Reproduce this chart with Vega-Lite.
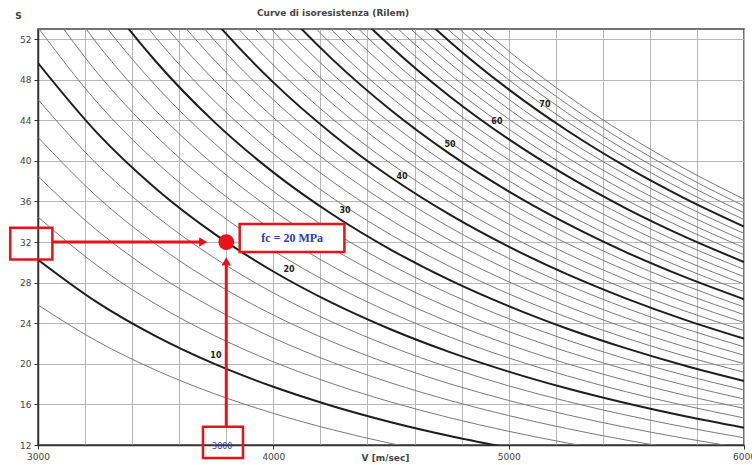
{
  "$schema": "https://vega.github.io/schema/vega-lite/v6.json",
  "width": 706,
  "height": 416,
  "autosize": {"type": "none"},
  "padding": {"left": 38, "top": 29, "right": 8, "bottom": 20},
  "background": "white",
  "config": {"view": {"stroke": "#444", "strokeWidth": 1.5}, "font": "DejaVu Sans"},
  "title": {"text": "Curve di isoresistenza (Rilem)", "fontSize": 9, "font": "DejaVu Sans", "fontWeight": "bold", "color": "#444", "anchor": "middle", "dx": -58, "dy": 15, "frame": "group", "offset": 8},
  "datasets": {
    "curves": [
      {"fc":8,"V":3000,"S":25.80},{"fc":8,"V":3250,"S":22.24},{"fc":8,"V":3500,"S":19.38},{"fc":8,"V":3750,"S":17.05},{"fc":8,"V":4000,"S":15.12},{"fc":8,"V":4250,"S":13.51},{"fc":8,"V":4500,"S":12.15},{"fc":8,"V":4750,"S":10.99},
      {"fc":10,"V":3000,"S":30.26},{"fc":10,"V":3250,"S":26.08},{"fc":10,"V":3500,"S":22.73},{"fc":10,"V":3750,"S":19.99},{"fc":10,"V":4000,"S":17.74},{"fc":10,"V":4250,"S":15.85},{"fc":10,"V":4500,"S":14.25},{"fc":10,"V":4750,"S":12.89},{"fc":10,"V":5000,"S":11.72},
      {"fc":12,"V":3000,"S":34.47},{"fc":12,"V":3250,"S":29.71},{"fc":12,"V":3500,"S":25.89},{"fc":12,"V":3750,"S":22.78},{"fc":12,"V":4000,"S":20.20},{"fc":12,"V":4250,"S":18.05},{"fc":12,"V":4500,"S":16.23},{"fc":12,"V":4750,"S":14.68},{"fc":12,"V":5000,"S":13.35},{"fc":12,"V":5250,"S":12.19},{"fc":12,"V":5500,"S":11.18},
      {"fc":14,"V":3000,"S":38.48},{"fc":14,"V":3250,"S":33.17},{"fc":14,"V":3500,"S":28.90},{"fc":14,"V":3750,"S":25.43},{"fc":14,"V":4000,"S":22.55},{"fc":14,"V":4250,"S":20.15},{"fc":14,"V":4500,"S":18.12},{"fc":14,"V":4750,"S":16.39},{"fc":14,"V":5000,"S":14.90},{"fc":14,"V":5250,"S":13.61},{"fc":14,"V":5500,"S":12.48},{"fc":14,"V":5750,"S":11.50},
      {"fc":16,"V":3000,"S":42.33},{"fc":16,"V":3250,"S":36.49},{"fc":16,"V":3500,"S":31.80},{"fc":16,"V":3750,"S":27.97},{"fc":16,"V":4000,"S":24.81},{"fc":16,"V":4250,"S":22.17},{"fc":16,"V":4500,"S":19.94},{"fc":16,"V":4750,"S":18.03},{"fc":16,"V":5000,"S":16.39},{"fc":16,"V":5250,"S":14.97},{"fc":16,"V":5500,"S":13.73},{"fc":16,"V":5750,"S":12.65},{"fc":16,"V":6000,"S":11.69},
      {"fc":18,"V":3000,"S":46.05},{"fc":18,"V":3250,"S":39.69},{"fc":18,"V":3500,"S":34.59},{"fc":18,"V":3750,"S":30.43},{"fc":18,"V":4000,"S":26.99},{"fc":18,"V":4250,"S":24.12},{"fc":18,"V":4500,"S":21.69},{"fc":18,"V":4750,"S":19.62},{"fc":18,"V":5000,"S":17.83},{"fc":18,"V":5250,"S":16.29},{"fc":18,"V":5500,"S":14.94},{"fc":18,"V":5750,"S":13.76},{"fc":18,"V":6000,"S":12.71},
      {"fc":20,"V":3000,"S":49.65},{"fc":20,"V":3250,"S":42.79},{"fc":20,"V":3500,"S":37.29},{"fc":20,"V":3750,"S":32.81},{"fc":20,"V":4000,"S":29.10},{"fc":20,"V":4250,"S":26.00},{"fc":20,"V":4500,"S":23.38},{"fc":20,"V":4750,"S":21.15},{"fc":20,"V":5000,"S":19.23},{"fc":20,"V":5250,"S":17.56},{"fc":20,"V":5500,"S":16.11},{"fc":20,"V":5750,"S":14.83},{"fc":20,"V":6000,"S":13.71},
      {"fc":22,"V":3000,"S":53.15},{"fc":22,"V":3250,"S":45.81},{"fc":22,"V":3500,"S":39.92},{"fc":22,"V":3750,"S":35.12},{"fc":22,"V":4000,"S":31.15},{"fc":22,"V":4250,"S":27.83},{"fc":22,"V":4500,"S":25.03},{"fc":22,"V":4750,"S":22.64},{"fc":22,"V":5000,"S":20.58},{"fc":22,"V":5250,"S":18.80},{"fc":22,"V":5500,"S":17.24},{"fc":22,"V":5750,"S":15.88},{"fc":22,"V":6000,"S":14.67},
      {"fc":24,"V":3000,"S":56.56},{"fc":24,"V":3250,"S":48.74},{"fc":24,"V":3500,"S":42.48},{"fc":24,"V":3750,"S":37.37},{"fc":24,"V":4000,"S":33.15},{"fc":24,"V":4250,"S":29.62},{"fc":24,"V":4500,"S":26.64},{"fc":24,"V":4750,"S":24.09},{"fc":24,"V":5000,"S":21.90},{"fc":24,"V":5250,"S":20.00},{"fc":24,"V":5500,"S":18.35},{"fc":24,"V":5750,"S":16.89},{"fc":24,"V":6000,"S":15.61},
      {"fc":26,"V":3000,"S":59.88},{"fc":26,"V":3250,"S":51.61},{"fc":26,"V":3500,"S":44.97},{"fc":26,"V":3750,"S":39.57},{"fc":26,"V":4000,"S":35.10},{"fc":26,"V":4250,"S":31.36},{"fc":26,"V":4500,"S":28.20},{"fc":26,"V":4750,"S":25.51},{"fc":26,"V":5000,"S":23.19},{"fc":26,"V":5250,"S":21.18},{"fc":26,"V":5500,"S":19.43},{"fc":26,"V":5750,"S":17.89},{"fc":26,"V":6000,"S":16.53},
      {"fc":28,"V":3000,"S":63.14},{"fc":28,"V":3250,"S":54.42},{"fc":28,"V":3500,"S":47.42},{"fc":28,"V":3750,"S":41.72},{"fc":28,"V":4000,"S":37.00},{"fc":28,"V":4250,"S":33.06},{"fc":28,"V":4500,"S":29.74},{"fc":28,"V":4750,"S":26.89},{"fc":28,"V":5000,"S":24.45},{"fc":28,"V":5250,"S":22.33},{"fc":28,"V":5500,"S":20.48},{"fc":28,"V":5750,"S":18.86},{"fc":28,"V":6000,"S":17.43},
      {"fc":30,"V":3000,"S":66.33},{"fc":30,"V":3250,"S":57.17},{"fc":30,"V":3500,"S":49.82},{"fc":30,"V":3750,"S":43.82},{"fc":30,"V":4000,"S":38.87},{"fc":30,"V":4250,"S":34.74},{"fc":30,"V":4500,"S":31.24},{"fc":30,"V":4750,"S":28.25},{"fc":30,"V":5000,"S":25.69},{"fc":30,"V":5250,"S":23.46},{"fc":30,"V":5500,"S":21.52},{"fc":30,"V":5750,"S":19.81},{"fc":30,"V":6000,"S":18.31},
      {"fc":32,"V":3250,"S":59.86},{"fc":32,"V":3500,"S":52.17},{"fc":32,"V":3750,"S":45.89},{"fc":32,"V":4000,"S":40.71},{"fc":32,"V":4250,"S":36.37},{"fc":32,"V":4500,"S":32.71},{"fc":32,"V":4750,"S":29.59},{"fc":32,"V":5000,"S":26.90},{"fc":32,"V":5250,"S":24.57},{"fc":32,"V":5500,"S":22.53},{"fc":32,"V":5750,"S":20.75},{"fc":32,"V":6000,"S":19.17},
      {"fc":34,"V":3250,"S":62.51},{"fc":34,"V":3500,"S":54.47},{"fc":34,"V":3750,"S":47.92},{"fc":34,"V":4000,"S":42.51},{"fc":34,"V":4250,"S":37.98},{"fc":34,"V":4500,"S":34.16},{"fc":34,"V":4750,"S":30.89},{"fc":34,"V":5000,"S":28.09},{"fc":34,"V":5250,"S":25.65},{"fc":34,"V":5500,"S":23.53},{"fc":34,"V":5750,"S":21.67},{"fc":34,"V":6000,"S":20.02},
      {"fc":36,"V":3250,"S":65.12},{"fc":36,"V":3500,"S":56.74},{"fc":36,"V":3750,"S":49.92},{"fc":36,"V":4000,"S":44.28},{"fc":36,"V":4250,"S":39.57},{"fc":36,"V":4500,"S":35.58},{"fc":36,"V":4750,"S":32.18},{"fc":36,"V":5000,"S":29.26},{"fc":36,"V":5250,"S":26.72},{"fc":36,"V":5500,"S":24.51},{"fc":36,"V":5750,"S":22.57},{"fc":36,"V":6000,"S":20.85},
      {"fc":38,"V":3500,"S":58.98},{"fc":38,"V":3750,"S":51.88},{"fc":38,"V":4000,"S":46.02},{"fc":38,"V":4250,"S":41.12},{"fc":38,"V":4500,"S":36.98},{"fc":38,"V":4750,"S":33.45},{"fc":38,"V":5000,"S":30.41},{"fc":38,"V":5250,"S":27.78},{"fc":38,"V":5500,"S":25.48},{"fc":38,"V":5750,"S":23.46},{"fc":38,"V":6000,"S":21.68},
      {"fc":40,"V":3500,"S":61.18},{"fc":40,"V":3750,"S":53.82},{"fc":40,"V":4000,"S":47.74},{"fc":40,"V":4250,"S":42.66},{"fc":40,"V":4500,"S":38.36},{"fc":40,"V":4750,"S":34.70},{"fc":40,"V":5000,"S":31.55},{"fc":40,"V":5250,"S":28.81},{"fc":40,"V":5500,"S":26.43},{"fc":40,"V":5750,"S":24.33},{"fc":40,"V":6000,"S":22.48},
      {"fc":42,"V":3500,"S":63.35},{"fc":42,"V":3750,"S":55.73},{"fc":42,"V":4000,"S":49.44},{"fc":42,"V":4250,"S":44.17},{"fc":42,"V":4500,"S":39.72},{"fc":42,"V":4750,"S":35.93},{"fc":42,"V":5000,"S":32.66},{"fc":42,"V":5250,"S":29.83},{"fc":42,"V":5500,"S":27.36},{"fc":42,"V":5750,"S":25.20},{"fc":42,"V":6000,"S":23.28},
      {"fc":44,"V":3500,"S":65.49},{"fc":44,"V":3750,"S":57.61},{"fc":44,"V":4000,"S":51.11},{"fc":44,"V":4250,"S":45.66},{"fc":44,"V":4500,"S":41.07},{"fc":44,"V":4750,"S":37.14},{"fc":44,"V":5000,"S":33.77},{"fc":44,"V":5250,"S":30.84},{"fc":44,"V":5500,"S":28.29},{"fc":44,"V":5750,"S":26.05},{"fc":44,"V":6000,"S":24.07},
      {"fc":46,"V":3750,"S":59.47},{"fc":46,"V":4000,"S":52.75},{"fc":46,"V":4250,"S":47.14},{"fc":46,"V":4500,"S":42.39},{"fc":46,"V":4750,"S":38.34},{"fc":46,"V":5000,"S":34.86},{"fc":46,"V":5250,"S":31.84},{"fc":46,"V":5500,"S":29.20},{"fc":46,"V":5750,"S":26.89},{"fc":46,"V":6000,"S":24.85},
      {"fc":48,"V":3750,"S":61.31},{"fc":48,"V":4000,"S":54.38},{"fc":48,"V":4250,"S":48.59},{"fc":48,"V":4500,"S":43.70},{"fc":48,"V":4750,"S":39.52},{"fc":48,"V":5000,"S":35.93},{"fc":48,"V":5250,"S":32.82},{"fc":48,"V":5500,"S":30.10},{"fc":48,"V":5750,"S":27.72},{"fc":48,"V":6000,"S":25.61},
      {"fc":50,"V":3750,"S":63.12},{"fc":50,"V":4000,"S":55.99},{"fc":50,"V":4250,"S":50.03},{"fc":50,"V":4500,"S":44.99},{"fc":50,"V":4750,"S":40.69},{"fc":50,"V":5000,"S":37.00},{"fc":50,"V":5250,"S":33.79},{"fc":50,"V":5500,"S":30.99},{"fc":50,"V":5750,"S":28.54},{"fc":50,"V":6000,"S":26.37},
      {"fc":52,"V":3750,"S":64.91},{"fc":52,"V":4000,"S":57.58},{"fc":52,"V":4250,"S":51.45},{"fc":52,"V":4500,"S":46.27},{"fc":52,"V":4750,"S":41.85},{"fc":52,"V":5000,"S":38.05},{"fc":52,"V":5250,"S":34.75},{"fc":52,"V":5500,"S":31.87},{"fc":52,"V":5750,"S":29.35},{"fc":52,"V":6000,"S":27.12},
      {"fc":54,"V":4000,"S":59.16},{"fc":54,"V":4250,"S":52.86},{"fc":54,"V":4500,"S":47.53},{"fc":54,"V":4750,"S":42.99},{"fc":54,"V":5000,"S":39.09},{"fc":54,"V":5250,"S":35.70},{"fc":54,"V":5500,"S":32.75},{"fc":54,"V":5750,"S":30.15},{"fc":54,"V":6000,"S":27.86},
      {"fc":56,"V":4000,"S":60.71},{"fc":56,"V":4250,"S":54.25},{"fc":56,"V":4500,"S":48.79},{"fc":56,"V":4750,"S":44.12},{"fc":56,"V":5000,"S":40.12},{"fc":56,"V":5250,"S":36.64},{"fc":56,"V":5500,"S":33.61},{"fc":56,"V":5750,"S":30.94},{"fc":56,"V":6000,"S":28.59},
      {"fc":58,"V":4000,"S":62.25},{"fc":58,"V":4250,"S":55.62},{"fc":58,"V":4500,"S":50.02},{"fc":58,"V":4750,"S":45.24},{"fc":58,"V":5000,"S":41.13},{"fc":58,"V":5250,"S":37.57},{"fc":58,"V":5500,"S":34.46},{"fc":58,"V":5750,"S":31.73},{"fc":58,"V":6000,"S":29.32},
      {"fc":60,"V":4000,"S":63.78},{"fc":60,"V":4250,"S":56.99},{"fc":60,"V":4500,"S":51.25},{"fc":60,"V":4750,"S":46.35},{"fc":60,"V":5000,"S":42.14},{"fc":60,"V":5250,"S":38.49},{"fc":60,"V":5500,"S":35.30},{"fc":60,"V":5750,"S":32.51},{"fc":60,"V":6000,"S":30.04},
      {"fc":62,"V":4000,"S":65.29},{"fc":62,"V":4250,"S":58.34},{"fc":62,"V":4500,"S":52.46},{"fc":62,"V":4750,"S":47.45},{"fc":62,"V":5000,"S":43.14},{"fc":62,"V":5250,"S":39.40},{"fc":62,"V":5500,"S":36.14},{"fc":62,"V":5750,"S":33.28},{"fc":62,"V":6000,"S":30.75},
      {"fc":64,"V":4250,"S":59.68},{"fc":64,"V":4500,"S":53.67},{"fc":64,"V":4750,"S":48.54},{"fc":64,"V":5000,"S":44.13},{"fc":64,"V":5250,"S":40.31},{"fc":64,"V":5500,"S":36.97},{"fc":64,"V":5750,"S":34.04},{"fc":64,"V":6000,"S":31.45},
      {"fc":66,"V":4250,"S":61.00},{"fc":66,"V":4500,"S":54.86},{"fc":66,"V":4750,"S":49.62},{"fc":66,"V":5000,"S":45.11},{"fc":66,"V":5250,"S":41.20},{"fc":66,"V":5500,"S":37.79},{"fc":66,"V":5750,"S":34.80},{"fc":66,"V":6000,"S":32.15},
      {"fc":68,"V":4250,"S":62.32},{"fc":68,"V":4500,"S":56.04},{"fc":68,"V":4750,"S":50.69},{"fc":68,"V":5000,"S":46.08},{"fc":68,"V":5250,"S":42.09},{"fc":68,"V":5500,"S":38.61},{"fc":68,"V":5750,"S":35.55},{"fc":68,"V":6000,"S":32.85},
      {"fc":70,"V":4250,"S":63.62},{"fc":70,"V":4500,"S":57.22},{"fc":70,"V":4750,"S":51.75},{"fc":70,"V":5000,"S":47.05},{"fc":70,"V":5250,"S":42.97},{"fc":70,"V":5500,"S":39.41},{"fc":70,"V":5750,"S":36.29},{"fc":70,"V":6000,"S":33.53},
      {"fc":72,"V":4250,"S":64.92},{"fc":72,"V":4500,"S":58.38},{"fc":72,"V":4750,"S":52.80},{"fc":72,"V":5000,"S":48.00},{"fc":72,"V":5250,"S":43.84},{"fc":72,"V":5500,"S":40.22},{"fc":72,"V":5750,"S":37.03},{"fc":72,"V":6000,"S":34.22},
      {"fc":74,"V":4500,"S":59.53},{"fc":74,"V":4750,"S":53.84},{"fc":74,"V":5000,"S":48.95},{"fc":74,"V":5250,"S":44.71},{"fc":74,"V":5500,"S":41.01},{"fc":74,"V":5750,"S":37.76},{"fc":74,"V":6000,"S":34.89},
      {"fc":76,"V":4500,"S":60.68},{"fc":76,"V":4750,"S":54.88},{"fc":76,"V":5000,"S":49.89},{"fc":76,"V":5250,"S":45.57},{"fc":76,"V":5500,"S":41.80},{"fc":76,"V":5750,"S":38.49},{"fc":76,"V":6000,"S":35.56},
      {"fc":78,"V":4500,"S":61.81},{"fc":78,"V":4750,"S":55.91},{"fc":78,"V":5000,"S":50.83},{"fc":78,"V":5250,"S":46.42},{"fc":78,"V":5500,"S":42.58},{"fc":78,"V":5750,"S":39.21},{"fc":78,"V":6000,"S":36.23}
    ]
  },
  "encoding": {
    "x": {
      "field": "V", "type": "quantitative",
      "scale": {"domain": [3000, 6000], "nice": false, "zero": false},
      "axis": {
        "values": [3000,3200,3400,3600,3800,4000,4200,4400,4600,4800,5000,5200,5400,5600,5800,6000],
        "format": "d",
        "labelExpr": "datum.value % 1000 === 0 ? datum.label : ''",
        "labelFlush": false, "labelOverlap": false,
        "tickOpacity": {"condition": {"test": "datum.value % 1000 === 0", "value": 1}, "value": 0},
        "tickSize": 4, "tickColor": "#333", "domainColor": "#333", "domainWidth": 1.5,
        "gridColor": "#b8b8b8", "gridWidth": 1,
        "labelFontSize": 9, "labelColor": "#444", "labelFont": "DejaVu Sans", "labelPadding": 3,
        "title": "V [m/sec]", "titleFont": "DejaVu Sans", "titleFontSize": 9, "titleFontWeight": "bold", "titleColor": "#444",
        "titleX": 347, "titleY": 12, "titleAlign": "center", "titleBaseline": "middle"
      }
    },
    "y": {
      "field": "S", "type": "quantitative",
      "scale": {"domain": [12, 53], "nice": false, "zero": false},
      "axis": {
        "values": [12,16,20,24,28,32,36,40,44,48,52],
        "tickSize": 4, "tickColor": "#333", "domainColor": "#333", "domainWidth": 1.5,
        "gridColor": "#b8b8b8", "gridWidth": 1,
        "labelFontSize": 9, "labelColor": "#444", "labelFont": "DejaVu Sans", "labelPadding": 3,
        "title": "S", "titleAngle": 0, "titleFont": "DejaVu Sans", "titleFontSize": 9, "titleFontWeight": "bold", "titleColor": "#444",
        "titleX": -20, "titleY": -14, "titleAlign": "center", "titleBaseline": "middle"
      }
    }
  },
  "layer": [
    {
      "data": {"name": "curves"},
      "transform": [{"filter": "datum.fc % 10 != 0"}],
      "mark": {"type": "line", "clip": true, "interpolate": "monotone", "stroke": "#7a7a7a", "strokeWidth": 1},
      "encoding": {"detail": {"field": "fc", "type": "nominal"}}
    },
    {
      "data": {"name": "curves"},
      "transform": [{"filter": "datum.fc % 10 == 0"}],
      "mark": {"type": "line", "clip": true, "interpolate": "monotone", "stroke": "#1e1e1e", "strokeWidth": 2},
      "encoding": {"detail": {"field": "fc", "type": "nominal"}}
    },
    {
      "data": {"values": [
        {"V": 3756, "S": 20.77, "t": "10"},
        {"V": 4067, "S": 29.25, "t": "20"},
        {"V": 4305, "S": 35.06, "t": "30"},
        {"V": 4547, "S": 38.41, "t": "40"},
        {"V": 4751, "S": 41.56, "t": "50"},
        {"V": 4950, "S": 43.83, "t": "60"},
        {"V": 5154, "S": 45.51, "t": "70"}
      ]},
      "mark": {"type": "text", "fontSize": 8, "fontWeight": "bold", "color": "#222", "font": "DejaVu Sans"},
      "encoding": {"text": {"field": "t"}}
    },
    {
      "data": {"values": [{"V": 3857, "V2": 4302, "S": 33.78, "S2": 31.02}]},
      "mark": {"type": "rect", "fill": "white", "stroke": "#e8121a", "strokeWidth": 2.5},
      "encoding": {"x2": {"field": "V2"}, "y2": {"field": "S2"}}
    },
    {
      "data": {"values": [
        {"V": 2882, "V2": 3061, "S": 33.42, "S2": 30.28},
        {"V": 3701, "V2": 3871, "S": 13.8, "S2": 10.72}
      ]},
      "mark": {"type": "rect", "filled": false, "stroke": "#e8121a", "strokeWidth": 2.5},
      "encoding": {"x2": {"field": "V2"}, "y2": {"field": "S2"}}
    },
    {
      "data": {"values": [{"V": 3061, "V2": 3700, "S": 32}]},
      "mark": {"type": "rule", "stroke": "#e8121a", "strokeWidth": 3},
      "encoding": {"x2": {"field": "V2"}}
    },
    {
      "data": {"values": [{"V": 3800, "S": 13.8, "S2": 30.1}]},
      "mark": {"type": "rule", "stroke": "#e8121a", "strokeWidth": 3},
      "encoding": {"y2": {"field": "S2"}}
    },
    {
      "data": {"values": [{"V": 3702, "S": 32}]},
      "mark": {"type": "point", "shape": "triangle-right", "filled": true, "color": "#e8121a", "size": 90, "opacity": 1},
      "encoding": {}
    },
    {
      "data": {"values": [{"V": 3800, "S": 30.1}]},
      "mark": {"type": "point", "shape": "triangle-up", "filled": true, "color": "#e8121a", "size": 90, "opacity": 1},
      "encoding": {}
    },
    {
      "data": {"values": [{"V": 3800, "S": 32}]},
      "mark": {"type": "point", "shape": "circle", "filled": true, "color": "#e8121a", "size": 250, "opacity": 1},
      "encoding": {}
    },
    {
      "data": {"values": [{"V": 4080, "S": 32.4, "t": "fc = 20 MPa"}]},
      "mark": {"type": "text", "font": "Liberation Serif", "fontSize": 12, "fontWeight": "bold", "color": "#2a3cb8"},
      "encoding": {"text": {"field": "t"}}
    },
    {
      "data": {"values": [{"V": 3783, "S": 11.83, "t": "3800"}]},
      "mark": {"type": "text", "font": "DejaVu Sans", "fontSize": 8, "color": "#2a3cb8"},
      "encoding": {"text": {"field": "t"}}
    }
  ]
}
